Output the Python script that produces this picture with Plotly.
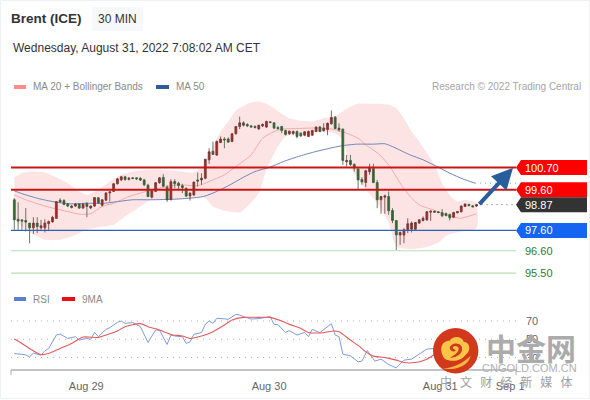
import plotly.graph_objects as go

open_ = [99.11,98.15,98.12,98.09,97.96,97.73,97.96,97.73,97.73,97.93,98.02,98.19,99.09,99.07,98.91,98.80,98.80,98.90,98.70,98.94,98.71,98.80,99.21,98.84,99.09,99.45,99.52,99.90,100.09,100.24,100.12,100.19,100.19,100.17,100.09,99.83,99.24,99.52,99.95,100.21,99.73,99.12,100.01,99.93,99.80,99.67,99.30,99.35,100.09,100.09,100.17,101.08,101.50,101.31,101.93,102.10,102.11,101.98,102.36,102.72,102.90,102.82,102.75,102.72,102.60,102.75,102.69,102.95,102.90,102.67,102.72,102.52,102.36,102.38,102.47,102.39,102.29,102.23,102.29,102.47,102.70,102.51,102.57,102.85,103.18,102.64,102.59,100.98,101.05,100.85,100.63,100.11,99.96,100.49,100.65,99.96,99.11,99.24,99.27,98.58,98.09,97.37,97.37,97.63,97.66,97.66,97.96,98.09,98.12,98.50,98.55,98.52,98.48,98.43,98.39,98.25,98.47,98.52,98.78,98.88,98.81,98.80]
high = [99.19,98.99,98.12,98.70,97.96,98.25,98.25,98.12,98.15,98.09,98.32,99.02,99.19,99.14,98.94,98.86,98.94,98.94,98.94,98.97,98.83,99.24,99.24,99.14,99.47,99.50,99.93,100.17,100.29,100.29,100.22,100.22,100.22,100.22,100.14,99.90,99.60,99.98,100.22,100.37,99.83,100.12,100.12,100.00,99.90,99.73,99.47,100.01,100.45,100.42,101.11,101.65,101.98,102.03,102.23,102.19,102.18,102.39,102.75,103.21,102.98,102.88,102.80,102.78,102.80,102.87,103.00,102.98,102.93,102.75,102.75,102.56,102.52,102.52,102.52,102.42,102.49,102.52,102.56,102.72,102.74,102.88,102.91,103.51,103.24,102.88,102.62,101.32,101.32,100.91,100.67,100.22,100.59,100.88,100.88,100.09,99.30,99.37,99.52,98.70,98.09,97.55,97.71,98.20,98.04,98.02,98.15,98.29,98.55,98.58,98.58,98.55,98.65,98.48,98.42,98.52,98.55,98.83,98.93,98.91,98.85,98.91]
low = [97.63,97.63,97.63,97.55,96.97,97.43,97.47,97.63,97.50,97.63,97.99,98.19,98.94,98.84,98.75,98.68,98.75,98.66,98.66,98.25,98.65,98.75,98.91,98.78,99.06,99.02,99.49,99.86,100.03,100.04,100.06,100.12,100.09,100.03,99.78,99.24,99.17,99.50,99.90,99.73,99.01,99.07,99.68,99.60,99.44,99.24,99.07,99.30,99.76,99.85,100.12,100.88,101.32,101.27,101.90,101.65,101.93,101.95,102.33,102.59,102.72,102.69,102.65,102.62,102.56,102.69,102.65,102.88,102.59,102.56,102.39,102.28,102.31,102.29,102.13,102.20,102.24,102.20,102.26,102.44,102.44,102.47,102.29,102.82,102.59,102.47,100.83,100.75,100.78,100.50,99.63,99.85,99.73,100.34,99.93,98.70,98.42,98.42,98.37,97.96,96.64,96.89,96.97,97.47,97.50,97.63,97.93,98.04,98.07,98.07,98.47,98.45,98.25,98.29,98.09,98.22,98.44,98.48,98.75,98.78,98.75,98.76]
close = [98.12,98.06,98.06,98.01,97.73,97.96,97.79,97.83,97.96,98.04,98.25,99.02,99.01,98.88,98.80,98.73,98.90,98.70,98.90,98.78,98.80,99.22,98.96,99.11,99.45,99.50,99.90,100.14,100.24,100.11,100.17,100.16,100.14,100.08,99.85,99.27,99.55,99.95,100.19,99.78,99.11,100.00,99.90,99.81,99.71,99.30,99.44,99.98,100.03,100.17,101.11,101.47,101.34,101.98,102.10,102.06,101.95,102.36,102.72,102.90,102.78,102.75,102.70,102.67,102.78,102.82,102.97,102.92,102.64,102.62,102.52,102.33,102.49,102.47,102.23,102.26,102.46,102.47,102.52,102.69,102.47,102.64,102.88,103.16,102.62,102.56,101.05,101.05,100.85,100.67,100.09,99.99,100.54,100.72,99.96,99.11,99.27,99.30,98.57,98.09,97.38,97.50,97.63,97.93,97.96,97.99,98.12,98.20,98.52,98.55,98.50,98.48,98.32,98.34,98.22,98.48,98.53,98.80,98.90,98.83,98.76,98.87]

upper_idx = [0,2,5,8,11,14,17,19,22,25,28,32,37,42,47,50,52,54,56,58,60,62,64,66,68,70,72,75,78,81,84,86,88,90,93,96,98,100,102,104,106,108,110,112,114,116,118,120,121]
upper = [100.22,100.42,100.50,100.45,100.22,99.93,99.52,99.35,99.60,100.01,100.34,100.54,100.59,100.54,100.45,100.91,101.73,102.47,102.96,103.51,103.73,103.90,103.95,103.84,103.62,103.34,103.13,103.00,102.97,103.13,103.24,103.46,103.70,103.84,103.84,103.84,103.79,103.62,103.13,102.47,101.98,101.41,100.83,99.93,99.35,99.02,99.11,99.02,98.94]
lower_idx = [0,1,3,6,8,12,16,19,23,26,29,33,36,41,46,48,50,52,55,59,61,64,66,69,71,76,80,84,86,88,91.5,95,98,100,104,108,111,113.4,117,121]
lower = [98.20,97.96,97.63,97.30,97.14,97.14,97.38,97.63,97.79,97.88,98.29,98.78,99.14,99.11,99.19,99.27,99.19,98.78,98.58,98.48,98.78,99.44,100.59,101.73,102.23,102.39,102.47,102.39,102.05,100.72,99.74,98.95,97.97,96.81,96.68,96.78,97.01,97.38,97.55,97.71]

ma20_idx = [0,3,7,10,14,17,20,23,26,30,33,36,40,43,48,51,55,58,62,65,68,70,74,77,81,84,87,90,92,95.7,98.3,101,103.6,106,109.7,113,116.7,119.3,121]
ma20 = [99.35,99.11,98.86,98.70,98.53,98.40,98.42,98.78,98.94,99.27,99.44,99.60,99.76,99.85,99.80,100.01,100.34,100.75,101.32,102.14,102.47,102.59,102.62,102.64,102.64,102.56,102.39,102.14,101.82,101.32,100.75,99.93,99.27,98.86,98.61,98.37,98.20,98.32,98.42]
ma50_idx = [0,3,7,11,15,19,23,27,31,36,42,46,49.5,53,56.5,60,63,67,70.4,74.8,79,82.6,85.7,89.6,94,97,99,103.6,107,110.6,114,117.5,120.6]
ma50 = [99.55,99.35,99.14,98.99,98.91,98.94,98.93,99.02,99.11,99.11,99.14,99.19,99.27,99.52,99.85,100.22,100.50,100.72,100.99,101.27,101.49,101.65,101.77,101.85,101.85,101.87,101.73,101.32,101.08,100.75,100.42,100.13,99.93]

rsi_idx = [0,1,3,4,5,7,8,9,11,12,14,16,17,19,20,21,22,24,25,27,28,29,31,33,35,37,38,40,41,42,44,45,46,47,49,50,51,52,53,55,56,58,59,60,62,64,66,67,68,69,71,72,74,76,77,78,80,83,84,85,86,88,90,91,92.4,94.4,96,98,100,102,104,106,108,110,113,116,119,121]
rsi = [34.4,33.7,32.9,30.7,34.8,32.6,37.3,39.9,54.6,55.7,50.9,52.8,49.1,50.9,49.8,57.5,52.8,60.8,62.7,68.5,70,67.4,68.2,63.8,46.5,60.1,60.1,44.3,54.6,53.5,52.8,45.4,47.2,55.3,57.5,66.3,70,67.4,72.9,72.4,71.8,77.3,76.6,74.8,72.2,72.6,74,74.8,66.3,66,57.5,59.4,54.6,57.5,52.8,60.8,57.2,67.1,54.6,52.8,33.7,31.8,25.2,26,37.7,26,28.2,22.3,18.6,27.1,28.2,33.3,39.2,39.9,41.7,45.4,47.2,49.1]
rsi_ma_idx = [0,2,5,7,9,12,15,18,22,24,27,29,33,35,38,41,44,46,49,52,55,57,60,64,67,70,72,75,77,81,83.5,85,88,90.5,92,94,97.5,100,102,105,108,110.5,116,121]
rsi_ma = [50.2,45.4,37.3,33.3,34.4,39.9,45.4,52.4,52,54.6,59,63.8,67.1,63.8,60.1,55.3,53.5,50.9,53.5,58.3,65.6,71.1,74,74,74,70,66.3,61.9,57.5,57.2,59,58.3,49.1,41.7,36.2,31.5,29.6,27.1,24.5,24.5,28.2,34.4,38,41.7]

levels = [100.70, 99.60, 97.60, 96.60, 95.50]
level_colors = ["#cc1414", "#cc1414", "#2f62b5", "#b9dcb4", "#b9dcb4"]
level_widths = [2, 2, 1.2, 1.2, 1.2]
tags = [(100.70, "100.70", "#ff0000"), (99.60, "99.60", "#ff0000"), (98.87, "98.87", "#333333"), (97.60, "97.60", "#1565f2")]
plain_tags = [(96.60, "96.60"), (95.50, "95.50")]
rsi_levels = [70, 50, 30]
x_ticks = [18.85, 66.7, 111.5, 129.8]
x_labels = ["Aug 29", "Aug 30", "Aug 31", "Sep 1"]

W, H = 590, 400
def px(x):
    return x / W
def py(y):
    return 1 - y / H
def bx(x):
    return (x - 14.3) / 3.82

AX_L, AX_R = bx(11), bx(516)
FONT = "Liberation Sans"
fig = go.Figure()

fig.add_trace(go.Scatter(x=upper_idx + lower_idx[::-1], y=upper + lower[::-1], fill="toself", mode="lines",
                         line=dict(width=0, shape="spline", smoothing=0.6), fillcolor="#fde4e4", hoverinfo="skip", yaxis="y"))
fig.add_trace(go.Scatter(x=ma20_idx, y=ma20, mode="lines", line=dict(color="#f6aaaa", width=1, shape="spline", smoothing=0.6), yaxis="y"))
fig.add_trace(go.Scatter(x=ma50_idx, y=ma50, mode="lines", line=dict(color="#6d86b8", width=1, shape="spline", smoothing=0.6), yaxis="y"))
fig.add_trace(go.Candlestick(x=list(range(len(open_))), open=open_, high=high, low=low, close=close, yaxis="y3",
                             whiskerwidth=0,
                             increasing=dict(line=dict(color="#6a3a3a", width=0.8), fillcolor="#bd2020"),
                             decreasing=dict(line=dict(color="#3f5a3f", width=0.8), fillcolor="#2c6e24")))
fig.add_trace(go.Scatter(x=rsi_idx, y=rsi, mode="lines", line=dict(color="#7f9ade", width=1), yaxis="y2"))
fig.add_trace(go.Scatter(x=rsi_ma_idx, y=rsi_ma, mode="lines", line=dict(color="#e45a5a", width=1.1, shape="spline", smoothing=0.6), yaxis="y2"))

shapes = []
annots = []

def text(x, y, s, size=11, color="#888888", anchor="left", family=FONT, bold=False):
    if bold:
        s = "<b>" + s + "</b>"
    annots.append(dict(xref="paper", yref="paper", x=px(x), y=py(y), text=s, showarrow=False, xanchor=anchor, yanchor="middle",
                       font=dict(size=size, color=color, family=family), borderpad=0, borderwidth=0))

def rect(x0, y0, x1, y1, color, line="rgba(0,0,0,0)", layer="above"):
    shapes.append(dict(type="rect", xref="paper", yref="paper", x0=px(x0), x1=px(x1), y0=py(y0), y1=py(y1), fillcolor=color, line=dict(color=line, width=1), layer=layer))

# frame and headings
rect(0.5, 0.5, 589.5, 398.5, "rgba(0,0,0,0)", line="#eef2f5", layer="below")
rect(92, 7, 143, 31, "#f6f8f9", layer="below")
text(11, 19, "Brent (ICE)", size=13.5, color="#333333", bold=True)
text(98, 19, "30 MIN", size=12, color="#333333")
text(13, 48, "Wednesday, August 31, 2022 7:08:02 AM CET", size=12, color="#333333")
rect(14, 85, 26, 89, "#ff8a8a")
text(33, 86.5, "MA 20 + Bollinger Bands", size=10, color="#8a8a8a")
rect(156, 85, 169, 89, "#2f5d9b")
text(176, 86.5, "MA 50", size=10, color="#8a8a8a")
text(581, 86.5, "Research © 2022 Trading Central", size=10, color="#a5a5a5", anchor="right")
rect(14, 297, 26, 301, "#5b7fd6")
text(33, 299, "RSI", size=10, color="#8a8a8a")
rect(62, 297, 75, 301, "#e81010")
text(82, 299, "9MA", size=10, color="#8a8a8a")

# price levels
for lv, c, w in zip(levels, level_colors, level_widths):
    shapes.append(dict(type="line", xref="x", yref="y", x0=AX_L, x1=AX_R, y0=lv, y1=lv, line=dict(color=c, width=w), layer="above"))
shapes.append(dict(type="line", xref="x", yref="y", x0=len(close) - 1, x1=AX_R, y0=close[-1], y1=close[-1], line=dict(color="#666666", width=1, dash="1px,4px")))
shapes.append(dict(type="line", xref="x", yref="y", x0=ma50_idx[-1], x1=AX_R, y0=ma50[-1], y1=ma50[-1], line=dict(color="#8aa0c8", width=1, dash="1px,4px")))

# value tags
for val, s, c in tags:
    shapes.append(dict(type="path", xref="x", yref="y", xsizemode="pixel", ysizemode="pixel", xanchor=AX_R, yanchor=val,
                       path="M0,0 L5,7.5 L71,7.5 L71,-7.5 L5,-7.5 Z", fillcolor=c, line=dict(width=0), layer="above"))
    annots.append(dict(xref="paper", yref="y", x=px(523), y=val, text=s, showarrow=False, xanchor="left", yanchor="middle", font=dict(size=11, color="#ffffff", family=FONT)))
for val, s in plain_tags:
    annots.append(dict(xref="paper", yref="y", x=px(523), y=val, text=s, showarrow=False, xanchor="left", yanchor="middle", font=dict(size=11, color="#2f7a2f", family=FONT)))

# forecast arrow
annots.append(dict(xref="x", yref="y", axref="x", ayref="y", x=bx(513), y=100.68, ax=bx(478), ay=98.82, text="", showarrow=True,
                   arrowhead=2, arrowsize=1.05, arrowwidth=4, arrowcolor="#2a5d9c"))

# RSI levels and axis line
for lv in rsi_levels:
    shapes.append(dict(type="line", xref="x", yref="y2", x0=AX_L, x1=AX_R, y0=lv, y1=lv, line=dict(color="#b5b5b5", width=1, dash="1px,5px"), layer="below"))
    annots.append(dict(xref="paper", yref="y2", x=px(523.5), y=lv, text=str(lv), showarrow=False, xanchor="left", yanchor="middle", font=dict(size=11, color="#666666", family=FONT)))
shapes.append(dict(type="line", xref="paper", yref="paper", x0=px(11), x1=px(516), y0=py(370), y1=py(370), line=dict(color="#b0b0b0", width=1.5)))
shapes.append(dict(type="line", xref="paper", yref="paper", x0=px(11), x1=px(11), y0=py(370), y1=py(375), line=dict(color="#b0b0b0", width=1)))
shapes.append(dict(type="line", xref="paper", yref="paper", x0=px(516), x1=px(516), y0=py(370), y1=py(375), line=dict(color="#b0b0b0", width=1)))

# watermark
def P(x, y):
    return f"{px(455.7 + x):.5f},{py(350.7 + y):.5f}"
shapes.append(dict(type="circle", xref="paper", yref="paper", x0=px(433), x1=px(478.4), y0=py(328), y1=py(373.4), fillcolor="#d2381b", line=dict(width=0), layer="above"))
cloud = ("M" + P(-11, 8) + " C" + P(-17, 0) + " " + P(-15, -10) + " " + P(-6, -10) + " C" + P(-3, -15) + " " + P(6, -15) + " " + P(8, -9)
         + " C" + P(14, -9) + " " + P(16, 0) + " " + P(10, 4) + " C" + P(6, 10) + " " + P(-4, 12) + " " + P(-11, 8) + " Z")
shapes.append(dict(type="path", xref="paper", yref="paper", path=cloud, fillcolor="#fbc54a", line=dict(width=0), layer="above"))
curl = ("M" + P(-6, 7) + " C" + P(2, 7) + " " + P(8, 2) + " " + P(6, -4) + " C" + P(4, -9) + " " + P(-5, -8) + " " + P(-6, -3)
        + " C" + P(-6, 0) + " " + P(-2, 2) + " " + P(0, 0) + " C" + P(-1, -2) + " " + P(-3, -2) + " " + P(-3, -3)
        + " C" + P(-2, -6) + " " + P(3, -5) + " " + P(3, -2) + " C" + P(3, 2) + " " + P(-2, 5) + " " + P(-6, 7) + " Z")
shapes.append(dict(type="path", xref="paper", yref="paper", path=curl, fillcolor="#d2381b", line=dict(width=0), layer="above"))
tail = ("M" + P(-13, 18) + " C" + P(-2, 17) + " " + P(8, 12) + " " + P(15, 5) + " C" + P(13, 14) + " " + P(2, 20) + " " + P(-13, 18) + " Z")
shapes.append(dict(type="path", xref="paper", yref="paper", path=tail, fillcolor="#f6b73c", line=dict(width=0), layer="above"))
text(531, 347, "中金网", size=30, color="#ababab", anchor="center", family="Noto Sans CJK SC", bold=True)
text(529.5, 368, "CNGOLD.COM.CN", size=11, color="#b0b0b0", anchor="center")
text(506, 381.5, "中 文 财 经 新 媒 体".replace(" ", "\u00a0\u00a0\u00a0"), size=12, color="#a0a0a0", anchor="center", family="Noto Sans CJK SC")

price_range = [100.7 - (285 - 167.5) / 20.3, 100.7 + (167.5 - 90) / 20.3]
fig.update_layout(
    width=W, height=H, margin=dict(l=0, r=0, t=0, b=0), showlegend=False,
    paper_bgcolor="white", plot_bgcolor="rgba(0,0,0,0)",
    xaxis=dict(domain=[0, 1], range=[bx(0), bx(590)], anchor="y2", rangeslider=dict(visible=False), showgrid=False, zeroline=False,
               showline=False, tickmode="array", tickvals=x_ticks, ticktext=x_labels, ticks="outside", ticklen=6, tickcolor="rgba(0,0,0,0)",
               tickfont=dict(size=11, color="#666666", family=FONT)),
    yaxis=dict(domain=[py(285), py(90)], range=price_range, visible=False),
    yaxis2=dict(domain=[py(370), py(290)], range=[70 - (370 - 321) / 0.9125, 70 + (321 - 290) / 0.9125], visible=False),
    yaxis3=dict(overlaying="y", range=price_range, visible=False),
    shapes=shapes, annotations=annots,
)
fig.write_html("out.html", post_script="document.body.style.margin='0';document.body.style.overflow='hidden';", config={"displayModeBar": False})
